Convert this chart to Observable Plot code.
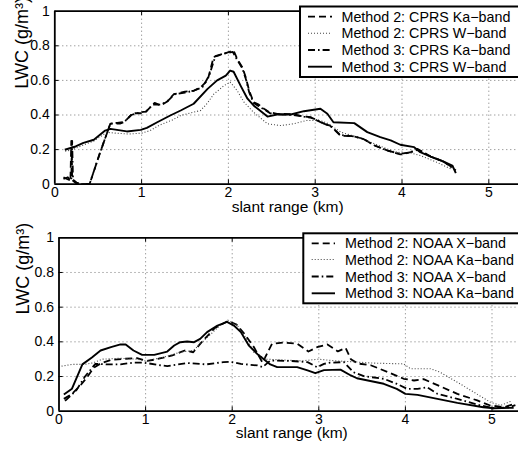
<!DOCTYPE html>
<html><head><meta charset="utf-8">
<script src="https://cdn.jsdelivr.net/npm/d3@7"></script>
<script src="https://cdn.jsdelivr.net/npm/@observablehq/plot@0.6"></script>
<style>
html,body{margin:0;padding:0;background:#fff;}
body{width:518px;height:450px;overflow:hidden;position:relative;font-family:"Liberation Sans",Arial,sans-serif;}
.panel{position:absolute;left:0;}
#legend{position:absolute;left:0;top:0;pointer-events:none;}
</style></head><body>
<div id="top" class="panel" style="top:0"></div>
<div id="bot" class="panel" style="top:225px"></div>
<script>
// ---------- tick values ----------
const xTicks = [0, 1, 2, 3, 4, 5];
const yTicks = [0, 0.2, 0.4, 0.6, 0.8, 1];

// ---------- labels ----------
const yLabel = "LWC (g/m³)";
const xLabel = "slant range (km)";
const topLegend = ["Method 2: CPRS Ka−band", "Method 2: CPRS W−band", "Method 3: CPRS Ka−band", "Method 3: CPRS W−band"];
const botLegend = ["Method 2: NOAA X−band", "Method 2: NOAA Ka−band", "Method 3: NOAA X−band", "Method 3: NOAA Ka−band"];

// ---------- top panel (CPRS) ----------
const cprsM2KaX = [0.10,0.15,0.18,0.19,0.20,0.25,0.30,0.40,0.52,0.64,0.75,0.80,0.90,1.00,1.05,1.15,1.22,1.30,1.37,1.50,1.60,1.68,1.76,1.83,1.95,2.06,2.10,2.16,2.20,2.24,2.29,2.35,2.41,2.47,2.56,2.75,2.87,2.95,3.02,3.10,3.17,3.29,3.45,3.56,3.68,3.83,3.98,4.10,4.18,4.33,4.48,4.60];
const cprsM2KaY = [0.03,0.04,0.02,0.25,0.03,0.01,0.00,0.00,0.18,0.35,0.35,0.36,0.41,0.41,0.42,0.47,0.455,0.48,0.52,0.535,0.54,0.56,0.60,0.735,0.755,0.773,0.725,0.676,0.618,0.54,0.474,0.46,0.436,0.416,0.407,0.405,0.391,0.387,0.368,0.35,0.339,0.281,0.276,0.262,0.224,0.195,0.172,0.185,0.204,0.16,0.131,0.09];

const cprsM2WX = [0.12,0.20,0.30,0.45,0.60,0.70,0.85,1.00,1.10,1.20,1.35,1.45,1.55,1.68,1.76,1.83,1.95,2.02,2.10,2.18,2.29,2.45,2.60,2.75,2.90,3.06,3.15,3.30,3.50,3.70,3.90,4.00,4.10,4.21,4.40,4.56];
const cprsM2WY = [0.19,0.20,0.22,0.25,0.30,0.295,0.29,0.295,0.31,0.34,0.37,0.397,0.41,0.426,0.47,0.52,0.57,0.59,0.542,0.474,0.416,0.349,0.339,0.349,0.368,0.368,0.35,0.30,0.27,0.23,0.19,0.18,0.18,0.166,0.127,0.089];

const cprsM3KaX = [0.10,0.14,0.19,0.20,0.21,0.26,0.30,0.40,0.52,0.64,0.72,0.80,0.88,0.98,1.05,1.13,1.22,1.30,1.38,1.50,1.60,1.70,1.78,1.85,1.95,2.05,2.10,2.16,2.20,2.24,2.29,2.35,2.42,2.48,2.56,2.75,2.87,2.95,3.03,3.10,3.18,3.29,3.45,3.56,3.68,3.83,3.98,4.10,4.18,4.33,4.48,4.62];
const cprsM3KaY = [0.04,0.03,0.02,0.25,0.02,0.00,0.00,0.00,0.18,0.35,0.355,0.36,0.40,0.415,0.42,0.46,0.46,0.48,0.52,0.53,0.54,0.56,0.63,0.74,0.755,0.765,0.72,0.67,0.61,0.53,0.47,0.45,0.43,0.41,0.405,0.40,0.39,0.385,0.37,0.35,0.335,0.285,0.276,0.26,0.225,0.195,0.175,0.185,0.20,0.16,0.13,0.08];

const cprsM3WX = [0.115,0.24,0.33,0.45,0.58,0.64,0.83,0.99,1.06,1.18,1.33,1.45,1.60,1.76,1.87,1.97,2.02,2.06,2.14,2.22,2.29,2.45,2.56,2.72,2.87,3.06,3.14,3.21,3.45,3.60,3.75,3.87,3.98,4.14,4.21,4.33,4.48,4.58,4.62];
const cprsM3WY = [0.199,0.218,0.239,0.257,0.31,0.32,0.305,0.314,0.326,0.358,0.397,0.426,0.465,0.551,0.60,0.628,0.657,0.65,0.57,0.494,0.455,0.391,0.403,0.403,0.422,0.436,0.407,0.358,0.353,0.301,0.272,0.253,0.228,0.214,0.185,0.16,0.131,0.108,0.064];

// ---------- bottom panel (NOAA) ----------
const noaaM2XX = [0.056,0.15,0.25,0.33,0.40,0.48,0.60,0.75,0.90,1.02,1.13,1.30,1.45,1.55,1.65,1.80,1.95,2.05,2.15,2.25,2.35,2.46,2.60,2.75,2.88,2.98,3.10,3.22,3.31,3.37,3.45,3.60,3.80,3.98,4.10,4.21,4.37,4.60,4.83,4.98,5.14,5.27];
const noaaM2XY = [0.071,0.10,0.15,0.20,0.25,0.275,0.296,0.302,0.306,0.29,0.30,0.32,0.35,0.34,0.40,0.48,0.52,0.50,0.44,0.37,0.28,0.389,0.396,0.389,0.344,0.369,0.385,0.345,0.365,0.30,0.275,0.265,0.225,0.187,0.177,0.185,0.15,0.10,0.062,0.033,0.023,0.045];

const noaaM2KaX = [0.03,0.15,0.30,0.40,0.50,0.70,0.90,1.00,1.20,1.40,1.55,1.70,1.85,1.95,2.05,2.15,2.25,2.40,2.60,2.80,3.00,3.20,3.40,3.60,3.80,3.98,4.06,4.29,4.40,4.60,4.79,4.98,5.10,5.23];
const noaaM2KaY = [0.26,0.27,0.27,0.28,0.30,0.305,0.30,0.29,0.31,0.34,0.35,0.42,0.49,0.525,0.50,0.43,0.34,0.30,0.295,0.29,0.30,0.29,0.285,0.278,0.275,0.273,0.245,0.245,0.225,0.167,0.11,0.052,0.033,0.06];

const noaaM3XX = [0.07,0.20,0.30,0.42,0.55,0.71,0.86,0.98,1.17,1.25,1.48,1.70,1.90,1.98,2.10,2.29,2.35,2.44,2.67,2.87,2.98,3.06,3.13,3.29,3.40,3.52,3.75,3.90,4.02,4.14,4.25,4.37,4.60,4.87,5.02,5.20,5.27];
const noaaM3XY = [0.06,0.12,0.20,0.273,0.27,0.27,0.28,0.28,0.265,0.26,0.278,0.27,0.283,0.285,0.273,0.264,0.254,0.292,0.29,0.283,0.254,0.273,0.28,0.283,0.225,0.202,0.187,0.158,0.129,0.129,0.138,0.10,0.071,0.033,0.017,0.023,0.035];

const noaaM3KaX = [0.056,0.15,0.27,0.38,0.48,0.60,0.71,0.77,0.86,0.96,1.10,1.25,1.33,1.40,1.48,1.56,1.63,1.71,1.83,1.94,2.02,2.10,2.19,2.30,2.44,2.52,2.75,2.87,2.96,3.06,3.25,3.37,3.44,3.75,3.90,4.00,4.14,4.37,4.60,4.90,5.02,5.25];
const noaaM3KaY = [0.096,0.13,0.27,0.31,0.35,0.37,0.385,0.385,0.35,0.325,0.325,0.344,0.379,0.398,0.402,0.398,0.417,0.456,0.494,0.515,0.494,0.456,0.38,0.325,0.27,0.254,0.254,0.235,0.219,0.237,0.24,0.206,0.19,0.158,0.129,0.10,0.094,0.071,0.048,0.023,0.017,0.02];

// ---------- styles ----------
const lineStyles = [
  {dash: "7,4", width: 1.8, color: "#000"},          // dashed
  {dash: "1,2", width: 1.1, color: "#444"},          // dotted
  {dash: "7,3,1.6,3", width: 1.8, color: "#000"},    // dash-dot
  {dash: null, width: 1.9, color: "#000"}            // solid
];
const FONT = "'Liberation Sans', Arial, Helvetica, sans-serif";

function makePanel({series, xMax, ml, mt, mb, height, xdx, xdy, ydx, ydy}) {
  const marks = [
    Plot.ruleX(xTicks.filter(d => d > 0 && d < xMax), {stroke: "#777", strokeWidth: 1, strokeDasharray: "1,3"}),
    Plot.ruleY(yTicks.filter(d => d > 0 && d < 1), {stroke: "#777", strokeWidth: 1, strokeDasharray: "1,3"}),
    // inward tick marks
    Plot.ruleX(xTicks.filter(d => d > 0), {y1: 0, y2: 0.025, stroke: "#000", strokeWidth: 1}),
    Plot.ruleX(xTicks.filter(d => d > 0), {y1: 0.975, y2: 1, stroke: "#000", strokeWidth: 1}),
    Plot.ruleY(yTicks.filter(d => d > 0 && d < 1), {x1: 0, x2: xMax * 0.009, stroke: "#000", strokeWidth: 1}),
  ];
  series.forEach(([xs, ys], i) => {
    const s = lineStyles[i];
    marks.push(Plot.line(ys, {x: xs, y: ys, stroke: s.color, strokeWidth: s.width,
      strokeDasharray: s.dash || undefined, strokeLinejoin: "round", strokeLinecap: "butt"}));
  });
  marks.push(
    Plot.ruleY([0, 1], {stroke: "#000", strokeWidth: 1.8}),
    Plot.ruleX([0], {stroke: "#000", strokeWidth: 1.8}),
    Plot.text([yLabel], {text: d => d, frameAnchor: "left", rotate: -90, dx: ydx, dy: ydy, fontSize: 18, fill: "#000"}),
    Plot.text([xLabel], {text: d => d, frameAnchor: "bottom", dx: xdx, dy: xdy, fontSize: 15.5, fill: "#000"})
  );
  return Plot.plot({
    width: 518, height,
    marginLeft: ml, marginRight: 0, marginTop: mt, marginBottom: mb,
    style: {fontFamily: FONT, fontSize: "14px", color: "#000", background: "transparent", overflow: "visible"},
    x: {domain: [0, xMax], ticks: xTicks, tickFormat: d => String(d), tickSize: 0, tickPadding: 3, label: null},
    y: {domain: [0, 1], ticks: yTicks, tickFormat: d => String(d), tickSize: 0, tickPadding: 5, label: null},
    marks
  });
}

document.getElementById("top").append(makePanel({
  series: [[cprsM2KaX, cprsM2KaY], [cprsM2WX, cprsM2WY], [cprsM3KaX, cprsM3KaY], [cprsM3WX, cprsM3WY]],
  xMax: 5.342, ml: 54.3, mt: 10.7, mb: 225 - 183.7, height: 225,
  xdx: 1, xdy: 28, ydx: -33, ydy: -9
}));
document.getElementById("bot").append(makePanel({
  series: [[noaaM2XX, noaaM2XY], [noaaM2KaX, noaaM2KaY], [noaaM3XX, noaaM3XY], [noaaM3KaX, noaaM3KaY]],
  xMax: 5.306, ml: 58.5, mt: 12.3, mb: 225 - 185.7, height: 225,
  xdx: 3, xdy: 27, ydx: -36, ydy: -10
}));

// ---------- legends ----------
const svg = d3.select("body").append("svg").attr("id", "legend").attr("width", 518).attr("height", 450)
  .style("font-family", FONT);
function legend(labels, left, top, bottom, lineX0, lineX1, textX, rowY) {
  svg.append("rect").attr("x", left).attr("y", top).attr("width", 600).attr("height", bottom - top)
    .attr("fill", "#fff").attr("stroke", "#000").attr("stroke-width", 2);
  labels.forEach((lab, i) => {
    const s = lineStyles[i];
    const y = rowY[i];
    svg.append("line").attr("x1", lineX0).attr("x2", lineX1).attr("y1", y).attr("y2", y)
      .attr("stroke", s.color).attr("stroke-width", s.width).attr("stroke-dasharray", s.dash);
    svg.append("text").attr("x", textX).attr("y", y).attr("dy", "0.35em").attr("font-size", 14.3)
      .attr("fill", "#000").text(lab);
  });
}
legend(topLegend, 300, 6.5, 77, 308, 332, 341.5, [16.7, 33.3, 50, 66.7]);
legend(botLegend, 303.3, 233.3, 303.3, 311.7, 335, 345, [243.3, 259.5, 276.5, 293.3]);
</script>
</body></html>
